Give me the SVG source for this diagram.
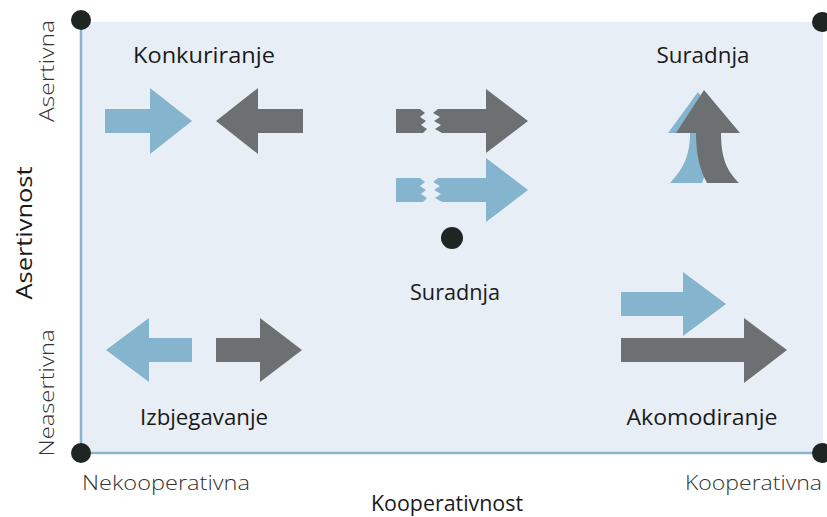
<svg xmlns="http://www.w3.org/2000/svg" width="827" height="517" viewBox="0 0 827 517">
<style>
.bl{fill:#85b4cf}
.gr{fill:#6d7072}
.dot{fill:#1f2523}
.lbl{font-family:"Open Sans","Noto Sans","Liberation Sans",sans-serif;font-size:21px;fill:#1a1a1a;text-anchor:middle}
.ax{font-family:"Open Sans","Noto Sans","Liberation Sans",sans-serif;font-size:20px;font-weight:300;fill:#333}
</style>
<rect id="bg" x="81" y="22" width="742" height="431" fill="#e8eef5"/>
<g id="axes">
<line x1="81" y1="22" x2="81" y2="453" stroke="#8ab5d0" stroke-width="2.5"/>
<line x1="81" y1="453" x2="823" y2="453" stroke="#8ab5d0" stroke-width="2.5"/>
<circle class="dot" cx="81" cy="20" r="10"/>
<circle class="dot" cx="822" cy="22" r="10"/>
<circle class="dot" cx="81" cy="453" r="10"/>
<circle class="dot" cx="822" cy="453" r="10"/>
</g>
<g id="konkuriranje">
<polygon class="bl" points="105,109 150,109 150,88 192,121 150,154 150,133 105,133"/>
<polygon class="gr" points="303,109 258,109 258,88 216,121 258,154 258,133 303,133"/>
<text class="lbl" x="204" y="63" textLength="142" lengthAdjust="spacingAndGlyphs">Konkuriranje</text>
</g>
<g id="suradnja-top">
<path class="bl" d="M668,133 L698,92 L728,133 L712,133 C712,155 706,172 702,183 L670,183 C680,172 690,160 690,133 Z"/>
<path class="gr" d="M676,133 L704,90 L740,133 L721,133 C721,160 728,172 739,183 L707,183 C700,170 696,155 696,133 Z"/>
<text class="lbl" x="703" y="63" textLength="93" lengthAdjust="spacingAndGlyphs">Suradnja</text>
</g>
<g id="suradnja-center">
<polygon class="gr" points="396,109 420,109 425,113 420,117 426,121 421,125 427,129 423,133 396,133"/>
<polygon class="gr" points="438,109 486,109 486,89 528,121 486,153 486,133 442,133 435,129 441,125 434,121 440,117 433,113"/>
<polygon class="bl" points="396,178 420,178 425,182 420,186 426,190 421,194 427,198 423,202 396,202"/>
<polygon class="bl" points="438,178 486,178 486,158 528,190 486,222 486,202 442,202 435,198 441,194 434,190 440,186 433,182"/>
<circle class="dot" cx="452" cy="238" r="11"/>
<text class="lbl" x="455" y="300" textLength="90" lengthAdjust="spacingAndGlyphs">Suradnja</text>
</g>
<g id="izbjegavanje">
<polygon class="bl" points="192,338 149,338 149,318 106,350 149,382 149,362 192,362"/>
<polygon class="gr" points="216,338 260,338 260,318 302,350 260,382 260,362 216,362"/>
<text class="lbl" x="204" y="425" textLength="128" lengthAdjust="spacingAndGlyphs">Izbjegavanje</text>
</g>
<g id="akomodiranje">
<polygon class="bl" points="621,292 683,292 683,272 726,304 683,336 683,316 621,316"/>
<polygon class="gr" points="621,338 744,338 744,318 787,350 744,383 744,362 621,362"/>
<text class="lbl" x="702" y="425" textLength="151" lengthAdjust="spacingAndGlyphs">Akomodiranje</text>
</g>
<g id="labels">
<text class="ax" x="82" y="490" textLength="168" lengthAdjust="spacingAndGlyphs">Nekooperativna</text>
<text class="ax" x="685" y="490" textLength="137" lengthAdjust="spacingAndGlyphs">Kooperativna</text>
<text class="lbl" x="447" y="511" textLength="152" lengthAdjust="spacingAndGlyphs">Kooperativnost</text>
<text class="lbl" transform="translate(32,233) rotate(-90)" textLength="133" lengthAdjust="spacingAndGlyphs">Asertivnost</text>
<text class="ax" text-anchor="middle" transform="translate(54,71) rotate(-90)" textLength="102" lengthAdjust="spacingAndGlyphs">Asertivna</text>
<text class="ax" text-anchor="middle" transform="translate(54,393) rotate(-90)" textLength="127" lengthAdjust="spacingAndGlyphs">Neasertivna</text>
</g>
</svg>
